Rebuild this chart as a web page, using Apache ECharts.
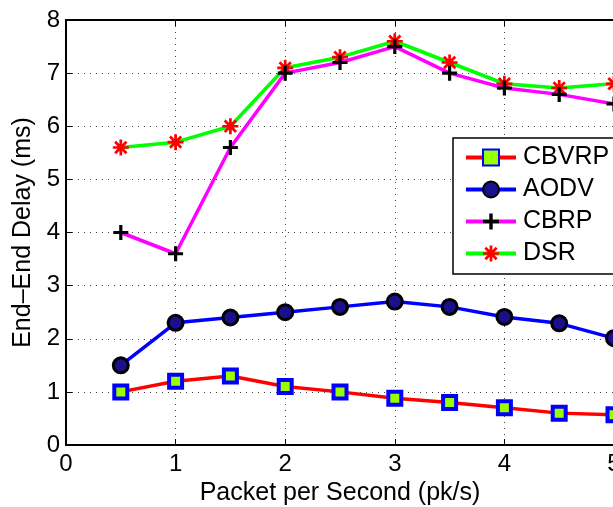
<!DOCTYPE html>
<html><head><meta charset="utf-8">
<script src="https://cdn.jsdelivr.net/npm/echarts@6/dist/echarts.min.js"></script>
<style>html,body{margin:0;padding:0;background:#fff}#c{width:613px;height:507px}</style>
</head><body><div id="c"></div>
<script>
var xValues = [0.5, 1, 1.5, 2, 2.5, 3, 3.5, 4, 4.5, 5];
var cbvrp = [1.0, 1.2, 1.3, 1.1, 1.0, 0.88, 0.8, 0.7, 0.6, 0.57];
var aodv  = [1.5, 2.3, 2.4, 2.5, 2.6, 2.7, 2.6, 2.41, 2.29, 2.01];
var cbrp  = [4.0, 3.6, 5.6, 7.0, 7.2, 7.5, 7.0, 6.72, 6.6, 6.42];
var dsr   = [5.6, 5.7, 6.0, 7.1, 7.3, 7.6, 7.2, 6.8, 6.72, 6.8];
var xTicks = [0, 1, 2, 3, 4, 5];
var yTicks = [0, 1, 2, 3, 4, 5, 6, 7, 8];

function pairs(ys){ return xValues.map(function(x,i){ return [x, ys[i]]; }); }

var FONT = '"Liberation Sans", Arial, sans-serif';
var PLUS = 'path://M-1.5,-7H1.5V-1.5H7V1.5H1.5V7H-1.5V1.5H-7V-1.5H-1.5Z';
var STAR = 'path://M-7,-1.2L7,-1.2L7,1.2L-7,1.2Z M-1.2,-7L1.2,-7L1.2,7L-1.2,7Z M-4.1,-5.8L5.8,4.1L4.1,5.8L-5.8,-4.1Z M5.8,-4.1L-4.1,5.8L-5.8,4.1L4.1,-5.8Z';

var chart = echarts.init(document.getElementById('c'), null, {renderer:'canvas'});
var gridLine = {show:true, lineStyle:{color:'#444', type:[1,5], width:1}};
chart.setOption({
  animation:false,
  backgroundColor:'#fff',
  grid:{left:66, top:20, right:-1, bottom:62, containLabel:false, outerBoundsMode:'none'},
  xAxis:[{
    type:'value', min:0, max:5, interval:1,
    name:'Packet per Second (pk/s)', nameLocation:'middle', nameGap:32,
    nameTextStyle:{fontFamily:FONT, fontSize:25, color:'#000'},
    axisLine:{show:true, lineStyle:{color:'#000', width:2}},
    axisTick:{show:true, inside:true, length:6, lineStyle:{color:'#000'}},
    axisLabel:{fontFamily:FONT, fontSize:24, color:'#000', margin:7, hideOverlap:false,
      formatter:function(v){ return xTicks.indexOf(v)>=0 ? String(v) : ''; }},
    splitLine:gridLine
  },{
    type:'value', position:'top', min:0, max:5, interval:1,
    axisLine:{show:true, onZero:false, lineStyle:{color:'#000', width:2}},
    axisTick:{show:true, inside:true, length:6, lineStyle:{color:'#000'}},
    axisLabel:{show:false}, splitLine:{show:false}
  }],
  yAxis:{
    type:'value', min:0, max:8, interval:1,
    name:'End\u2013End Delay (ms)', nameLocation:'middle', nameGap:25,
    nameTextStyle:{fontFamily:FONT, fontSize:25, color:'#000'},
    axisLine:{show:true, lineStyle:{color:'#000', width:2}},
    axisTick:{show:true, inside:true, length:6, lineStyle:{color:'#000'}},
    axisLabel:{fontFamily:FONT, fontSize:24, color:'#000', margin:6,
      formatter:function(v){ return yTicks.indexOf(v)>=0 ? String(v) : ''; }},
    splitLine:gridLine
  },
  legend:{
    orient:'vertical', left:453, top:138,
    padding:[7,30,8,11], itemGap:7, itemWidth:50, itemHeight:20,
    backgroundColor:'#fff', borderColor:'#000', borderWidth:1.5,
    lineStyle:{width:4},
    textStyle:{fontFamily:FONT, fontSize:25, color:'#000', padding:[0,0,0,2]},
    data:['CBVRP','AODV','CBRP','DSR']
  },
  series:[
    {name:'CBVRP', type:'line', data:pairs(cbvrp), symbol:'rect', symbolSize:13, z:5,
      lineStyle:{color:'#ff0000', width:3.5},
      itemStyle:{color:'#99ff00', borderColor:'#0000ff', borderWidth:4}},
    {name:'AODV', type:'line', data:pairs(aodv), symbol:'circle', symbolSize:15, z:4,
      lineStyle:{color:'#0000ff', width:3.5},
      itemStyle:{color:'#1a0f8c', borderColor:'#000', borderWidth:3}},
    {name:'CBRP', type:'line', data:pairs(cbrp), symbol:PLUS, symbolSize:15, z:3,
      lineStyle:{color:'#ff00ff', width:3.5},
      itemStyle:{color:'#000', borderWidth:0}},
    {name:'DSR', type:'line', data:pairs(dsr), symbol:STAR, symbolSize:16, z:2,
      lineStyle:{color:'#00ff00', width:3.5},
      itemStyle:{color:'#ff0000', borderWidth:0}}
  ]
});
</script>
</body></html>
